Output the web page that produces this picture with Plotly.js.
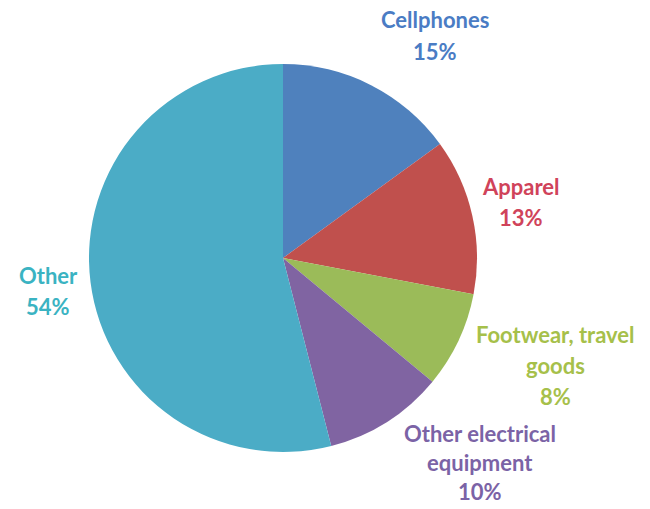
<!DOCTYPE html>
<html>
<head>
<meta charset="utf-8">
<script src="https://cdn.plot.ly/plotly-3.0.1.min.js"></script>
<style>html,body{margin:0;padding:0;background:#fff;}#chart{width:650px;height:509px;}</style>
</head>
<body>
<div id="chart"></div>
<script>
var categories = ["Cellphones", "Apparel", "Footwear, travel goods", "Other electrical equipment", "Other"];
var labelLines = [["Cellphones"], ["Apparel"], ["Footwear, travel", "goods"], ["Other electrical", "equipment"], ["Other"]];
var shares = [15, 13, 8, 10, 54];
var colors = ["#4F81BD", "#C0504D", "#9BBB59", "#8064A2", "#4BACC6"];
var textColors = ["#4A7CC4", "#D0435A", "#A6C04A", "#7B63A6", "#3AB3C2"];

var W = 650, H = 509;
var cx = 283, cy = 258, r = 194;
var labelPos = [[435, 20], [521, 186], [555, 334], [480, 433], [48, 275]];
var lineGaps = [31, 31, 31, 29, 31];

var annotations = [];
categories.forEach(function (c, i) {
  var lines = labelLines[i].concat([shares[i] + "%"]);
  lines.forEach(function (t, k) {
    annotations.push({
      xref: "paper", yref: "paper",
      x: labelPos[i][0] / W, y: 1 - (labelPos[i][1] + k * lineGaps[i]) / H,
      xanchor: "center", yanchor: "middle",
      text: t, showarrow: false, borderpad: 0,
      font: {family: "Lato, 'Open Sans', sans-serif", size: 22, color: textColors[i], weight: "bold"}
    });
  });
});

var trace = {
  type: "pie",
  labels: categories,
  values: shares,
  sort: false,
  direction: "clockwise",
  rotation: 0,
  marker: {colors: colors, line: {width: 0}},
  textinfo: "none",
  hoverinfo: "label+percent",
  domain: {x: [(cx - r) / W, (cx + r) / W], y: [1 - (cy + r) / H, 1 - (cy - r) / H]}
};

Plotly.newPlot("chart", [trace], {
  width: W, height: H,
  margin: {l: 0, r: 0, t: 0, b: 0},
  paper_bgcolor: "#ffffff",
  showlegend: false,
  annotations: annotations
}, {displayModeBar: false, staticPlot: true});
</script>
</body>
</html>
